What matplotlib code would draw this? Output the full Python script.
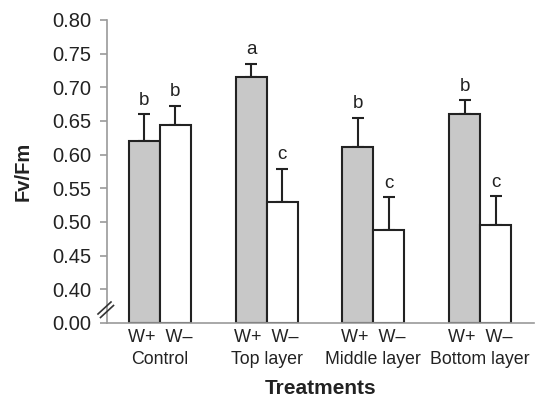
import matplotlib
matplotlib.use("Agg")
import matplotlib.pyplot as plt
import numpy as np
from matplotlib.lines import Line2D

plt.rcParams['font.family'] = ['Liberation Sans', 'DejaVu Sans']

groups = ["Control", "Top layer", "Middle layer", "Bottom layer"]
w_plus = [0.621, 0.715, 0.612, 0.661]
w_plus_err = [0.039, 0.020, 0.043, 0.020]
w_minus = [0.644, 0.529, 0.488, 0.496]
w_minus_err = [0.029, 0.050, 0.049, 0.042]
letters_plus = ["b", "a", "b", "b"]
letters_minus = ["b", "c", "c", "c"]
yticks = [0.35, 0.40, 0.45, 0.50, 0.55, 0.60, 0.65, 0.70, 0.75, 0.80]
ytick_labels = ["0.00", "0.40", "0.45", "0.50", "0.55", "0.60", "0.65", "0.70", "0.75", "0.80"]

base = 0.35
fig = plt.figure(figsize=(5.43, 4.05), dpi=100)
ax = fig.add_axes([107/543, 1-323/405, (534-107)/543, (323-20)/405])

x = np.arange(len(groups))
w = 0.29
grey = "#c8c8c8"
edge = "#222222"
axc = "#9a9a9a"
txt = "#222222"

for xs, vals, errs, col, lets in [(x - w/2, w_plus, w_plus_err, grey, letters_plus),
                                   (x + w/2, w_minus, w_minus_err, "white", letters_minus)]:
    ax.bar(xs, np.array(vals) - base, w, bottom=base, color=col, edgecolor=edge,
           linewidth=1.5, zorder=3)
    ax.errorbar(xs, vals, yerr=[np.zeros(len(errs)), errs], fmt="none",
                ecolor=edge, elinewidth=1.5, capsize=4, capthick=1.5, zorder=2)
    for xi, v, e, l in zip(xs, vals, errs, lets):
        ax.text(xi, v + e + 0.008, l, ha="center", va="bottom", fontsize=13.5, color=txt)

ax.set_xlim(-0.495, 3.505)
ax.set_ylim(0.35, 0.80)
ax.set_yticks(yticks)
ax.set_yticklabels(ytick_labels, fontsize=14.5, color=txt)
ax.set_xticks([])
for s in ["top", "right"]:
    ax.spines[s].set_visible(False)
for s in ["left", "bottom"]:
    ax.spines[s].set_color(axc)
    ax.spines[s].set_linewidth(1.2)
    ax.spines[s].set_zorder(4)
ax.tick_params(axis="y", color=axc, length=5, width=1.2, pad=6.5)

for xi in x:
    ax.annotate("W+  W\u2013", xy=(xi, 0), xycoords=("data", "figure fraction"),
                xytext=(xi, 1-338/405), textcoords=("data", "figure fraction"),
                ha="center", va="center", fontsize=13, color=txt, annotation_clip=False)
    ax.annotate(groups[xi], xy=(xi, 0), xycoords=("data", "figure fraction"),
                xytext=(xi, 1-360/405), textcoords=("data", "figure fraction"),
                ha="center", va="center", fontsize=12.8, color=txt, annotation_clip=False)

fig.text(23/543, 1-171/405, "Fv/Fm", rotation=90, ha="center", va="center",
         fontsize=14.5, fontweight="bold", color=txt)
fig.text((107+534)/2/543, 1-389/405, "Treatments", ha="center", va="center",
         fontsize=15, fontweight="bold", color=txt)

# axis break marks
for dx, dy in [(0, 0), (2.5, 3.5)]:
    fig.add_artist(Line2D([(98+dx)/543, (111+dx)/543], [1-(314+dy)/405, 1-(302+dy)/405],
                          color="#333333", linewidth=1.2))

fig.savefig("out.png", dpi=100)
